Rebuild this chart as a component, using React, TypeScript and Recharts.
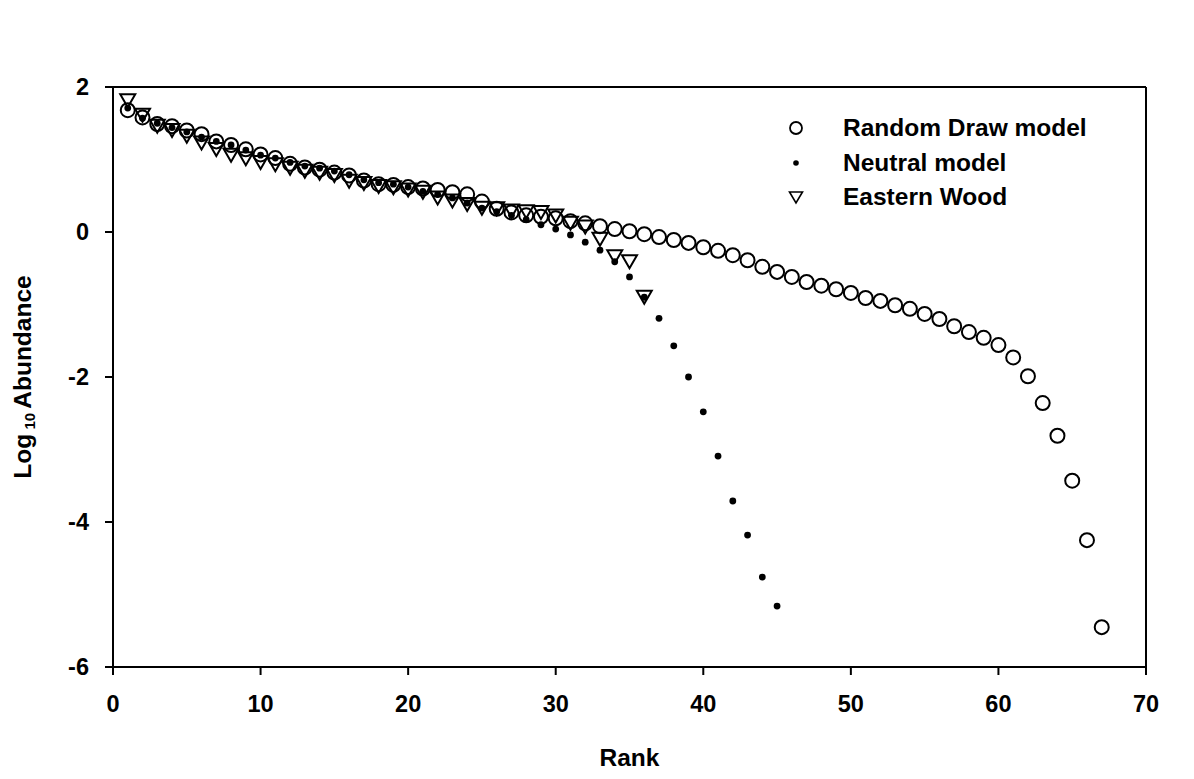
import React from 'react';
import {
  ScatterChart,
  Scatter,
  XAxis,
  YAxis,
  ReferenceLine,
  Legend,
  Label,
} from 'recharts';

// log10 abundance by rank
const randomDraw = [
  1.68, 1.58, 1.49, 1.46, 1.4, 1.35, 1.25, 1.2, 1.14, 1.07,
  1.02, 0.94, 0.89, 0.86, 0.82, 0.78, 0.71, 0.66, 0.65, 0.62,
  0.6, 0.58, 0.55, 0.52, 0.42, 0.32, 0.27, 0.23, 0.21, 0.19,
  0.15, 0.12, 0.08, 0.04, 0.01, -0.03, -0.07, -0.11, -0.15, -0.21,
  -0.26, -0.32, -0.39, -0.48, -0.55, -0.62, -0.69, -0.74, -0.79, -0.84,
  -0.91, -0.95, -1.01, -1.06, -1.13, -1.2, -1.3, -1.38, -1.46, -1.56,
  -1.73, -1.99, -2.36, -2.81, -3.43, -4.25, -5.45,
];

const neutral = [
  1.71, 1.57, 1.5, 1.44, 1.38, 1.31, 1.25, 1.2, 1.13, 1.06,
  1.02, 0.96, 0.91, 0.88, 0.84, 0.79, 0.72, 0.68, 0.66, 0.62,
  0.56, 0.52, 0.47, 0.4, 0.33, 0.28, 0.23, 0.17, 0.1, 0.04,
  -0.04, -0.14, -0.25, -0.41, -0.62, -0.9, -1.19, -1.57, -2.0, -2.48,
  -3.09, -3.71, -4.18, -4.76, -5.16,
];

const easternWood = [
  1.83, 1.63, 1.48, 1.42, 1.34, 1.25, 1.16, 1.08, 1.03, 0.98,
  0.95, 0.9, 0.86, 0.83, 0.8, 0.72, 0.69, 0.65, 0.63, 0.6,
  0.57, 0.49, 0.45, 0.4, 0.35, 0.34, 0.31, 0.3, 0.29, 0.24,
  0.14, 0.09, -0.08, -0.32, -0.39, -0.88,
];

const xTicks = [0, 10, 20, 30, 40, 50, 60, 70];
const yTicks = [-6, -4, -2, 0, 2];

const seriesNames = ['Random Draw model', 'Neutral model', 'Eastern Wood'];

const FONT = '"Liberation Sans", Arial, Helvetica, sans-serif';

const toPoints = (vals: number[]) => vals.map((v, i) => ({ rank: i + 1, value: v }));

const OpenCircle = (p: any) => (
  <circle cx={p.cx} cy={p.cy} r={7} fill="none" stroke="#000" strokeWidth={2} />
);

const Dot = (p: any) => <circle cx={p.cx} cy={p.cy} r={3.4} fill="#000" />;

const DownTriangle = (p: any) => (
  <path
    d={`M${p.cx - 7.5},${p.cy - 5} L${p.cx + 7.5},${p.cy - 5} L${p.cx},${p.cy + 8} Z`}
    fill="none"
    stroke="#000"
    strokeWidth={2}
    strokeLinejoin="miter"
  />
);

const legendIcons = [
  <circle cx={16} cy={12} r={6} fill="none" stroke="#000" strokeWidth={1.8} />,
  <circle cx={16} cy={12} r={2.8} fill="#000" />,
  <path d="M9.5,7 L22.5,7 L16,18 Z" fill="none" stroke="#000" strokeWidth={1.6} />,
];

const LegendBox = () => (
  <div style={{ fontFamily: FONT, fontWeight: 'bold', fontSize: 24.5 }}>
    {seriesNames.map((name, i) => (
      <div key={name} style={{ display: 'flex', alignItems: 'center', height: 34.5 }}>
        <svg width={32} height={24}>{legendIcons[i]}</svg>
        <span style={{ marginLeft: 31, lineHeight: '34px' }}>{name}</span>
      </div>
    ))}
  </div>
);

const YTitle = (props: any) => {
  const vb = props.viewBox;
  const x = vb.x - 31;
  const y = vb.y + vb.height / 2;
  return (
    <text
      x={x}
      y={y}
      transform={`rotate(-90, ${x}, ${y})`}
      textAnchor="middle"
      dominantBaseline="central"
      fontFamily={FONT}
      fontWeight="bold"
      fontSize={24.5}
      fill="#000"
    >
      Log
      <tspan fontSize={15} dy={7}>{'\u00a010\u00a0'}</tspan>
      <tspan fontSize={24.5} dy={-7}>Abundance</tspan>
    </text>
  );
};

const XTitle = (props: any) => {
  const vb = props.viewBox;
  return (
    <text
      x={vb.x + vb.width / 2}
      y={vb.y + 99}
      textAnchor="middle"
      fontFamily={FONT}
      fontWeight="bold"
      fontSize={24.5}
      fill="#000"
    >
      Rank
    </text>
  );
};

const tickStyle = { fill: '#000', fontSize: 23.5, fontFamily: FONT, fontWeight: 'bold' as const };

export default function App() {
  return (
    <div style={{ position: 'absolute', left: 0, top: 0, background: '#fff' }}>
      <ScatterChart
        width={1194}
        height={779}
        margin={{ top: 87, right: 48, bottom: 62, left: 53 }}
      >
        <XAxis
          type="number"
          dataKey="rank"
          domain={[0, 70]}
          ticks={xTicks}
          allowDataOverflow
          height={50}
          tickSize={8}
          tickMargin={20}
          tick={tickStyle}
          axisLine={{ stroke: '#000', strokeWidth: 2 }}
          tickLine={{ stroke: '#000', strokeWidth: 2 }}
        >
          <Label content={XTitle} />
        </XAxis>
        <YAxis
          type="number"
          dataKey="value"
          domain={[-6, 2]}
          ticks={yTicks}
          allowDataOverflow
          width={60}
          tickSize={8}
          tickMargin={16}
          tick={tickStyle}
          axisLine={{ stroke: '#000', strokeWidth: 2 }}
          tickLine={{ stroke: '#000', strokeWidth: 2 }}
        >
          <Label content={YTitle} />
        </YAxis>
        <ReferenceLine y={2} stroke="#000" strokeWidth={2} />
        <ReferenceLine x={70} stroke="#000" strokeWidth={2} />
        <Scatter
          name={seriesNames[0]}
          data={toPoints(randomDraw)}
          shape={OpenCircle}
          isAnimationActive={false}
        />
        <Scatter
          name={seriesNames[1]}
          data={toPoints(neutral)}
          shape={Dot}
          isAnimationActive={false}
        />
        <Scatter
          name={seriesNames[2]}
          data={toPoints(easternWood)}
          shape={DownTriangle}
          isAnimationActive={false}
        />
        <Legend
          layout="vertical"
          align="center"
          verticalAlign="middle"
          content={LegendBox}
          wrapperStyle={{ left: 780, top: 111, width: 380 }}
        />
      </ScatterChart>
    </div>
  );
}
